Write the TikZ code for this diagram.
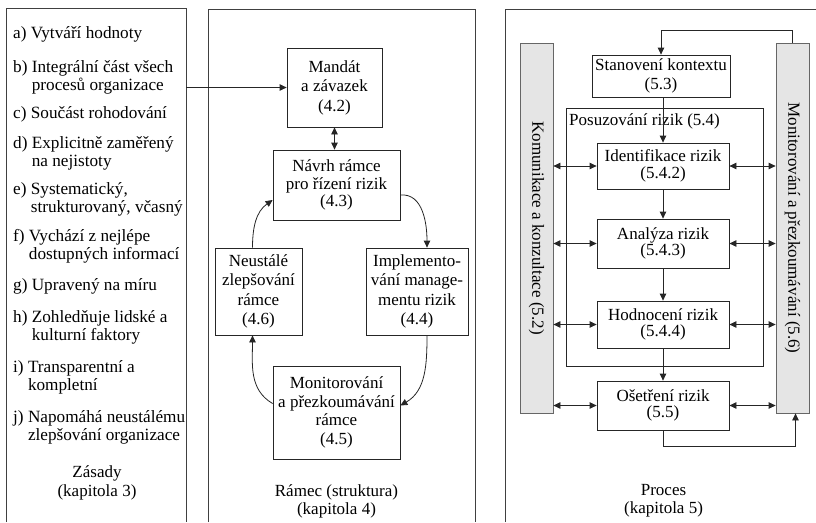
\documentclass[tikz,border=0pt]{standalone}
\usepackage{fontspec}
\setmainfont{Liberation Serif}
\usetikzlibrary{arrows.meta}
\begin{document}
\begin{tikzpicture}[x=1pt,y=-1pt,
  every node/.style={font=\fontsize{17}{19.5}\selectfont, inner sep=0pt},
  panel/.style={draw=black!75, line width=0.9pt},
  box/.style={draw=black!85, line width=0.8pt, align=center},
  tight/.style={font=\fontsize{17}{16.5}\selectfont},
  bar/.style={draw=black!60, fill=black!10, line width=0.8pt, minimum width=33pt, minimum height=370pt},
  item/.style={anchor=west, align=left, font=\fontsize{17.2}{18}\selectfont},
  arr/.style={-{Triangle[length=7pt,width=6.5pt]}, line width=0.8pt, draw=black!85},
  darr/.style={{Triangle[length=7pt,width=6.5pt]}-{Triangle[length=7pt,width=6.5pt]}, line width=0.8pt, draw=black!85}
]
\useasboundingbox (0,0) rectangle (816,522);

% panels
\draw[panel] (6,522) |- (186,8) -- (186,522);
\draw[panel] (208,522) |- (475,9) -- (475,522);
\draw[panel] (505,522) |- (817,9);

% left panel: principles
\newcommand{\itm}[2]{\begin{tabular}{@{}l@{ }l@{}}#1 & #2\end{tabular}}
\newcommand{\itmm}[3]{\begin{tabular}{@{}l@{ }l@{}}#1 & #2\\ & #3\end{tabular}}
\node[item] (pa) at (13,35) {\itm{a)}{Vytváří hodnoty}};
\node[item] (pb) at (13,78) {\itmm{b)}{Integrální část všech}{procesů organizace}};
\node[item] (pc) at (13,115) {\itm{c)}{Součást rohodování}};
\node[item] (pd) at (13,154) {\itmm{d)}{Explicitně zaměřený}{na nejistoty}};
\node[item] (pe) at (13,200) {\itmm{e)}{Systematický,}{strukturovaný, včasný}};
\node[item] (pf) at (13,246.5) {\itmm{f)}{Vychází z nejlépe}{dostupných informací}};
\node[item] (pg) at (13,287) {\itm{g)}{Upravený na míru}};
\node[item] (ph) at (13,328) {\itmm{h)}{Zohledňuje lidské a}{kulturní faktory}};
\node[item] (pi) at (13,378) {\itmm{i)}{Transparentní a}{kompletní}};
\node[item] (pj) at (13,427.5) {\itmm{j)}{Napomáhá neustálému}{zlepšování organizace}};
\node[align=center, font=\fontsize{17}{19}\selectfont] (zas) at (97,482.5) {Zásady\\(kapitola 3)};

% middle panel: framework
\node[box, minimum width=95pt, minimum height=79pt] (man) at (334.5,87.5) {Mandát\\a závazek\\(4.2)};
\node[box, minimum width=127pt, minimum height=70pt, font=\fontsize{17}{17.5}\selectfont] (nav) at (336.5,185) {Návrh rámce\\pro řízení rizik\\(4.3)};
\node[box, minimum width=87pt, minimum height=87pt] (neu) at (258.5,291.5) {Neustálé\\zlepšování\\rámce\\(4.6)};
\node[box, minimum width=102pt, minimum height=87pt] (imp) at (417,291.5) {Implemento-\\vání manage-\\mentu rizik\\(4.4)};
\node[box, minimum width=127pt, minimum height=93pt, font=\fontsize{17}{18.7}\selectfont] (mon) at (336.5,412.5) {Monitorování\\a přezkoumávání\\rámce\\(4.5)};
\node[align=center, font=\fontsize{17}{18}\selectfont] (ram) at (336.5,501) {Rámec (struktura)\\(kapitola 4)};

\coordinate (lp) at (186,87.5);
\draw[arr] (lp) -- (man.west);
\draw[darr] (man.south) -- (man.south |- nav.north);
\draw[arr] ([xshift=-6pt]neu.north) to[out=90,in=215] ([yshift=-15pt]nav.west);
\draw[arr] ([yshift=-10pt]nav.east) to[out=5,in=90] ([xshift=10pt]imp.north);
\draw[arr] ([xshift=10pt]imp.south) to[out=270,in=30] ([yshift=7pt]mon.east);
\draw[arr] ([yshift=9pt]mon.west) to[out=150,in=270] ([xshift=-6pt]neu.south);

% right panel: process
\node[bar] (lbar) at (536.5,228) {};
\node[rotate=-90] (lbt) at (lbar.center) {Komunikace a konzultace (5.2)};
\node[bar] (rbar) at (792.5,228) {};
\node[rotate=-90] (rbt) at (rbar.center) {Monitorování a přezkoumávání (5.6)};

\draw[line width=0.8pt, draw=black!85] (566,108) rectangle (763,366);
\node[anchor=west] (posl) at (569,121) {Posuzování rizik (5.4)};

\node[box, minimum width=138pt, minimum height=42pt, font=\fontsize{17}{19}\selectfont] (stan) at (661,76) {Stanovení kontextu\\(5.3)};
\node[box, tight, minimum width=132pt, minimum height=46pt] (iden) at (663,166) {Identifikace rizik\\(5.4.2)};
\node[box, tight, minimum width=132pt, minimum height=49pt] (ana) at (663,243.5) {Analýza rizik\\(5.4.3)};
\node[box, tight, minimum width=132pt, minimum height=47pt] (hod) at (663,324.5) {Hodnocení rizik\\(5.4.4)};
\node[box, tight, minimum width=132pt, minimum height=49pt] (ose) at (663,405.5) {Ošetření rizik\\(5.5)};
\node[align=center, font=\fontsize{17}{18}\selectfont] (pro) at (663.5,501) {Proces\\(kapitola 5)};

\draw[arr] (stan.south -| iden.north) -- (iden.north);
\draw[arr] (iden.south) -- (ana.north);
\draw[arr] (ana.south) -- (hod.north);
\draw[arr] (hod.south) -- (ose.north);

\foreach \b in {iden,ana,hod,ose}{
  \draw[darr] (lbar.east |- \b.west) -- (\b.west);
  \draw[darr] (\b.east) -- (rbar.west |- \b.east);
}

\draw[arr] (rbar.north) -- ++(0,-12) -| (stan.north);
\draw[arr] (ose.south) -- ++(0,16) -| ([xshift=3pt]rbar.south);
\end{tikzpicture}
\end{document}
